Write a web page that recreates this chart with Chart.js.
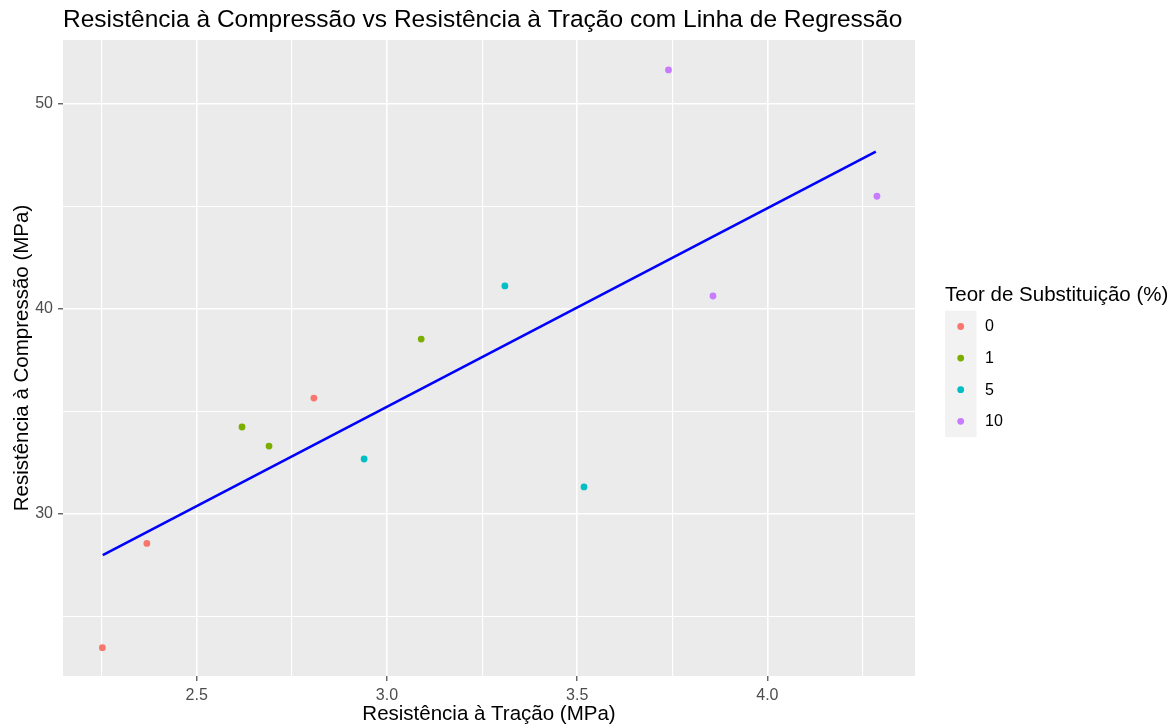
<!DOCTYPE html>
<html>
<head>
<meta charset="utf-8">
<script src="https://cdn.jsdelivr.net/npm/chart.js@4"></script>
<style>
  body { margin: 0; background: #fff; }
  #wrap { position: relative; width: 1176px; height: 728px; }
</style>
</head>
<body>
<div id="wrap"><canvas id="chart" width="1176" height="728"></canvas></div>
<script>
const groups = ['0', '1', '5', '10'];
const colors = ['#F8766D', '#7CAE00', '#00BFC4', '#C77CFF'];

// Resistência à Tração (x) e Compressão (y) por teor
const tracao0 = [2.252, 2.369, 2.808];
const compressao0 = [23.49, 28.57, 35.65];
const tracao1 = [2.619, 2.690, 3.090];
const compressao1 = [34.24, 33.31, 38.52];
const tracao5 = [2.940, 3.310, 3.518];
const compressao5 = [32.68, 41.11, 31.32];
const tracao10 = [3.740, 3.857, 4.288];
const compressao10 = [51.63, 40.62, 45.48];

// linha de regressão (extremos)
const regX = [2.253, 4.285];
const regY = [28.0, 47.65];

const xTicks = [2.25, 2.5, 2.75, 3.0, 3.25, 3.5, 3.75, 4.0, 4.25];
const yTicks = [25, 30, 35, 40, 45, 50];
const xMajor = [2.5, 3.0, 3.5, 4.0];
const yMajor = [30, 40, 50];

const titleText = 'Resistência à Compressão vs Resistência à Tração com Linha de Regressão';
const legendTitle = 'Teor de Substituição (%)';

const FONT = '"Liberation Sans", Arial, sans-serif';

function pts(xs, ys) {
  return xs.map((x, i) => ({ x: x, y: ys[i] }));
}

const seriesX = [tracao0, tracao1, tracao5, tracao10];
const seriesY = [compressao0, compressao1, compressao5, compressao10];

const datasets = groups.map((g, i) => ({
  label: g,
  data: pts(seriesX[i], seriesY[i]),
  backgroundColor: colors[i],
  borderWidth: 0,
  pointRadius: 3.4,
  pointHoverRadius: 3.4,
  order: 2
}));

datasets.push({
  label: 'Regressão',
  type: 'line',
  data: pts(regX, regY),
  borderColor: '#0000FF',
  borderWidth: 2.6,
  pointRadius: 0,
  showLine: true,
  fill: false,
  order: 1
});

const isMajor = (list, v) => list.some(m => Math.abs(m - v) < 1e-6);

const panelPlugin = {
  id: 'panel',
  beforeDraw(chart) {
    const { ctx, chartArea: a } = chart;
    ctx.save();
    ctx.fillStyle = '#EBEBEB';
    ctx.fillRect(a.left, a.top, a.right - a.left, a.bottom - a.top);
    ctx.restore();
  },
  afterDraw(chart) {
    const { ctx, chartArea: a } = chart;
    ctx.save();
    // title
    ctx.fillStyle = '#000';
    ctx.font = '24.5px ' + FONT;
    ctx.textBaseline = 'alphabetic';
    ctx.textAlign = 'left';
    ctx.fillText(titleText, a.left, 27);

    // legend
    ctx.font = '20.5px ' + FONT;
    ctx.fillText(legendTitle, 945, 300.5);
    ctx.fillStyle = '#F2F2F2';
    ctx.fillRect(945, 310.7, 31.5, 126.4);
    ctx.font = '16px ' + FONT;
    ctx.textBaseline = 'middle';
    groups.forEach((g, i) => {
      const cy = 310.7 + 15.8 + i * 31.6;
      ctx.fillStyle = colors[i];
      ctx.beginPath();
      ctx.arc(960.7, cy, 3.4, 0, Math.PI * 2);
      ctx.fill();
      ctx.fillStyle = '#000';
      ctx.fillText(g, 985, cy + 0.5);
    });
    ctx.restore();
  }
};

new Chart(document.getElementById('chart'), {
  type: 'scatter',
  data: { datasets: datasets },
  options: {
    responsive: false,
    animation: false,
    layout: { padding: { top: 40, right: 261, left: 0, bottom: 0 } },
    plugins: {
      legend: { display: false },
      title: { display: false },
      tooltip: { enabled: false }
    },
    scales: {
      x: {
        type: 'linear',
        min: 2.1485,
        max: 4.388,
        afterBuildTicks: s => { s.ticks = xTicks.map(v => ({ value: v })); },
        afterFit: s => { s.height = 52; },
        border: { display: false },
        grid: {
          color: '#FFFFFF',
          lineWidth: c => isMajor(xMajor, c.tick.value) ? 1.6 : 1.1,
          tickColor: c => isMajor(xMajor, c.tick.value) ? '#333333' : 'rgba(0,0,0,0)',
          tickLength: 5,
          tickWidth: 1.1
        },
        ticks: {
          autoSkip: false,
          maxRotation: 0,
          padding: 5,
          color: '#4D4D4D',
          font: { family: FONT, size: 16 },
          callback: v => isMajor(xMajor, v) ? v.toFixed(1) : ''
        },
        title: {
          display: true,
          text: 'Resistência à Tração (MPa)',
          color: '#000',
          font: { family: FONT, size: 20.5 },
          padding: { top: 0, bottom: 1 }
        }
      },
      y: {
        type: 'linear',
        min: 22.11,
        max: 53.09,
        afterBuildTicks: s => { s.ticks = yTicks.map(v => ({ value: v })); },
        afterFit: s => { s.width = 63; },
        border: { display: false },
        grid: {
          color: '#FFFFFF',
          lineWidth: c => isMajor(yMajor, c.tick.value) ? 1.6 : 1.1,
          tickColor: c => isMajor(yMajor, c.tick.value) ? '#333333' : 'rgba(0,0,0,0)',
          tickLength: 5,
          tickWidth: 1.1
        },
        ticks: {
          autoSkip: false,
          padding: 5,
          color: '#4D4D4D',
          font: { family: FONT, size: 16 },
          callback: v => isMajor(yMajor, v) ? String(v) : ''
        },
        title: {
          display: true,
          text: 'Resistência à Compressão (MPa)',
          color: '#000',
          font: { family: FONT, size: 20.5 },
          padding: { top: 10.5, bottom: 0 }
        }
      }
    }
  },
  plugins: [panelPlugin]
});
</script>
</body>
</html>
